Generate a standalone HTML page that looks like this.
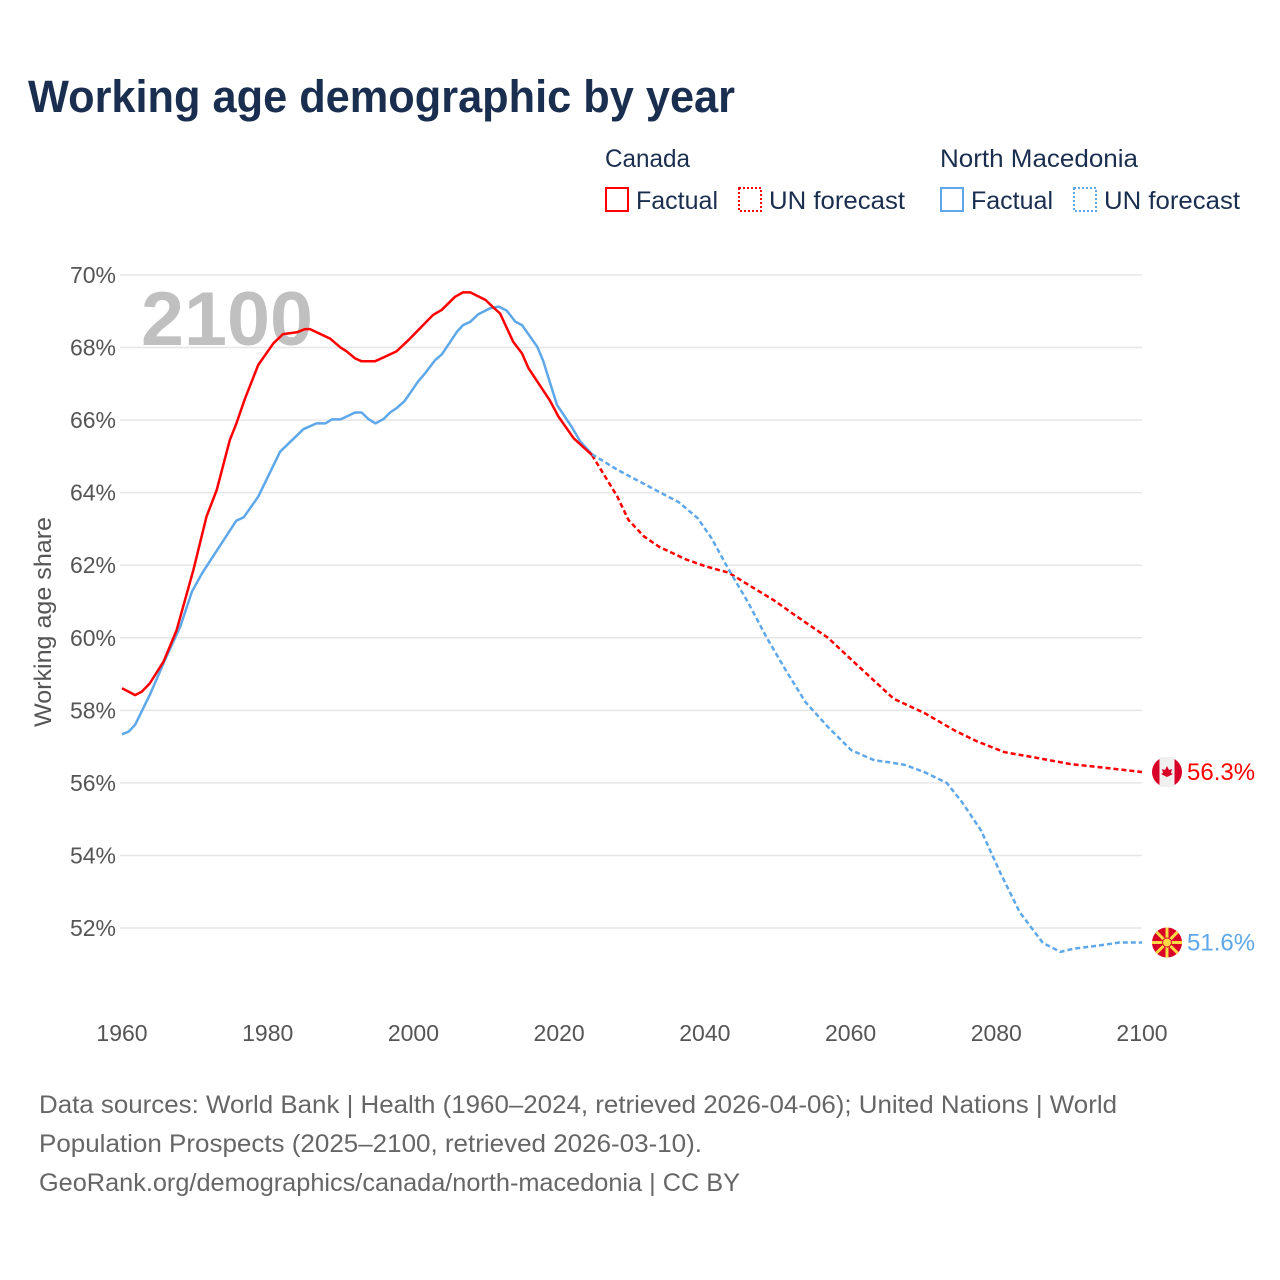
<!DOCTYPE html>
<html><head><meta charset="utf-8"><style>
body{margin:0;background:#fff;}
svg{display:block;font-family:"Liberation Sans",sans-serif;}
</style></head><body>
<svg id="chart" width="1280" height="1280" viewBox="0 0 1280 1280" xmlns="http://www.w3.org/2000/svg">
<rect width="1280" height="1280" fill="#fff"/>
<text x="28" y="112" font-size="45" font-weight="bold" fill="#1a2e4f" textLength="707" lengthAdjust="spacingAndGlyphs">Working age demographic by year</text>
<g font-size="25" fill="#1a2e4f">
<text x="605" y="167" textLength="85" lengthAdjust="spacingAndGlyphs">Canada</text>
<text x="940" y="167" textLength="198" lengthAdjust="spacingAndGlyphs">North Macedonia</text>
<rect x="606" y="188" width="22" height="23" fill="none" stroke="#ff0000" stroke-width="2"/>
<text x="636" y="209" textLength="82" lengthAdjust="spacingAndGlyphs">Factual</text>
<rect x="739" y="188" width="22" height="23" fill="none" stroke="#ff0000" stroke-width="2" stroke-dasharray="2,2"/>
<text x="769" y="209" textLength="136" lengthAdjust="spacingAndGlyphs">UN forecast</text>
<rect x="941" y="188" width="22" height="23" fill="none" stroke="#5ea8ea" stroke-width="2"/>
<text x="971" y="209" textLength="82" lengthAdjust="spacingAndGlyphs">Factual</text>
<rect x="1074" y="188" width="22" height="23" fill="none" stroke="#5ea8ea" stroke-width="2" stroke-dasharray="2,2"/>
<text x="1104" y="209" textLength="136" lengthAdjust="spacingAndGlyphs">UN forecast</text>
</g>
<text x="141" y="345" font-size="76" font-weight="bold" fill="#c0c0c0" textLength="172" lengthAdjust="spacingAndGlyphs">2100</text>
<g id="grid"></g>
<g id="axes" font-size="23" fill="#555"></g>
<text transform="translate(51,622) rotate(-90)" text-anchor="middle" font-size="24" fill="#555" textLength="210" lengthAdjust="spacingAndGlyphs">Working age share</text>
<g id="series"></g>
<g id="ends"></g>
<g font-size="25" fill="#666">
<text x="39" y="1113" textLength="1078" lengthAdjust="spacingAndGlyphs">Data sources: World Bank | Health (1960–2024, retrieved 2026-04-06); United Nations | World</text>
<text x="39" y="1152" textLength="663" lengthAdjust="spacingAndGlyphs">Population Prospects (2025–2100, retrieved 2026-03-10).</text>
<text x="39" y="1191" textLength="701" lengthAdjust="spacingAndGlyphs">GeoRank.org/demographics/canada/north-macedonia | CC BY</text>
</g>
</svg>
<script>
const yTicks=[52,54,56,58,60,62,64,66,68,70];
const xTicks=[1960,1980,2000,2020,2040,2060,2080,2100];
const caYears=[1960,1961.8,1962.7,1963.8,1965.7,1967.5,1969.8,1971.6,1973,1974.8,1975.7,1976.9,1978.7,1980.8,1982.1,1984,1985.1,1985.8,1988.6,1990,1990.8,1992,1992.9,1994.7,1995.9,1997.7,1999.5,2002.7,2003.9,2005.7,2006.8,2007.8,2009.9,2011,2011.9,2013.7,2014.9,2015.8,2018.7,2019.9,2022,2024.5];
const caVals=[58.61,58.42,58.51,58.74,59.34,60.21,61.87,63.34,64.07,65.45,65.91,66.6,67.52,68.12,68.37,68.42,68.51,68.51,68.24,68.0,67.9,67.7,67.62,67.62,67.73,67.9,68.24,68.9,69.04,69.4,69.52,69.52,69.31,69.1,68.94,68.16,67.84,67.43,66.55,66.1,65.5,65.04];
const caFcYears=[2024.5,2028,2029.5,2031.6,2033.7,2037.4,2040.1,2043.3,2046.3,2049.5,2052.6,2056.9,2061.1,2065.9,2070.1,2074.3,2077.4,2081.1,2085.3,2090.1,2094.8,2100];
const caFcVals=[65.04,63.89,63.25,62.8,62.51,62.16,61.97,61.79,61.42,61.03,60.59,60.0,59.21,58.32,57.93,57.44,57.14,56.85,56.7,56.52,56.42,56.3];
const mkYears=[1960,1960.9,1961.8,1963.8,1965.9,1968,1969.6,1971,1975.7,1976.7,1978.7,1981.7,1984.9,1986.7,1987.9,1988.8,1990,1992,1992.9,1993.8,1994.8,1995.9,1996.8,1997.7,1998.8,2000.7,2001.6,2003,2003.9,2006,2006.8,2007.8,2008.9,2010.5,2011.7,2012.8,2014,2014.9,2017,2017.8,2018.7,2019.7,2021.7,2022.9,2024.5];
const mkVals=[57.34,57.41,57.6,58.42,59.39,60.31,61.27,61.78,63.23,63.32,63.89,65.13,65.75,65.91,65.91,66.02,66.02,66.21,66.21,66.03,65.91,66.03,66.21,66.33,66.53,67.08,67.29,67.66,67.81,68.44,68.62,68.71,68.92,69.08,69.13,69.02,68.71,68.62,68.02,67.64,67.06,66.42,65.82,65.41,65.06];
const mkFcYears=[2024.5,2028,2032.7,2036.4,2039,2040.9,2043.3,2045.9,2048.5,2051.1,2053.8,2056.9,2060.1,2063.3,2065.3,2067.4,2070.1,2073.2,2075.3,2077.9,2080.6,2083.2,2086.4,2088.8,2090.6,2093.8,2096.9,2100];
const mkFcVals=[65.06,64.63,64.13,63.74,63.3,62.75,61.87,60.99,60.0,59.11,58.23,57.54,56.9,56.62,56.57,56.5,56.3,56.0,55.47,54.69,53.5,52.44,51.59,51.34,51.43,51.51,51.6,51.6];

const NS="http://www.w3.org/2000/svg";
const X0=122,X1=1142,Y70=275,Y52=928;
function xs(yr){return X0+(yr-1960)*(X1-X0)/140;}
function ys(v){return Y70+(70-v)*(Y52-Y70)/18;}
function mk(tag,attrs,parent){const e=document.createElementNS(NS,tag);for(const k in attrs)e.setAttribute(k,attrs[k]);parent.appendChild(e);return e;}
const grid=document.getElementById('grid'),axes=document.getElementById('axes'),series=document.getElementById('series'),ends=document.getElementById('ends');
yTicks.forEach(t=>{
  const l=mk('line',{x1:X0-2,x2:X1,y1:ys(t),y2:ys(t),stroke:'#e6e6e6','stroke-width':1.5},grid);
  
  
  const tx=mk('text',{x:116,y:ys(t)+8,'text-anchor':'end'},axes);
  tx.textContent=t+'%';
  
  
});
xTicks.forEach(t=>{
  const tx=mk('text',{x:xs(t),y:1041,'text-anchor':'middle'},axes);
  tx.textContent=t;
  
  
});
function line(years,vals,color,dash,name){
  const d=years.map((y,i)=>(i?'L':'M')+xs(y).toFixed(1)+','+ys(vals[i]).toFixed(1)).join('');
  const p=mk('path',{d:d,fill:'none',stroke:color,'stroke-width':2.5,'stroke-linejoin':'round'},series);
  if(dash)p.setAttribute('stroke-dasharray','5,3');
  
  
}
line(caFcYears,caFcVals,'#ff0000',true,'canada-forecast-line');
line(mkFcYears,mkFcVals,'#5ea8ea',true,'macedonia-forecast-line');
line(mkYears,mkVals,'#5ea8ea',false,'macedonia-factual-line');
line(caYears,caVals,'#ff0000',false,'canada-factual-line');
function endMark(v,color,name,flag){
  const cy=ys(v),cx=1167;
  const g=mk('g',{},ends);
  
  
  if(flag==='ca'){
    mk('circle',{cx:cx,cy:cy,r:15,fill:'#d80027'},g);
    mk('rect',{x:cx-7.5,y:cy-15,width:15,height:30,fill:'#f0f0f0'},g);
    mk('path',{d:`M${cx},${cy-6}l2,4l3,-1l-1,4l2,1l-6,3l-6,-3l2,-1l-1,-4l3,1z`,fill:'#d80027'},g);
  } else {
    mk('circle',{cx:cx,cy:cy,r:15,fill:'#d80027'},g);
    for(let a=0;a<8;a++){const an=a*Math.PI/4;mk('line',{x1:cx,y1:cy,x2:cx+15*Math.cos(an),y2:cy+15*Math.sin(an),stroke:'#ffda44','stroke-width':3},g);}
    mk('circle',{cx:cx,cy:cy,r:4.5,fill:'#ffda44',stroke:'#d80027','stroke-width':1},g);
  }
  const t=mk('text',{x:1187,y:cy+8,'font-size':24,fill:color},ends);
  t.textContent=v.toFixed(1)+'%';
  
  
}
endMark(caFcVals[caFcVals.length-1],'#ff0000','canada','ca');
endMark(mkFcVals[mkFcVals.length-1],'#5ea8ea','macedonia','mk');
</script>
</body></html>
